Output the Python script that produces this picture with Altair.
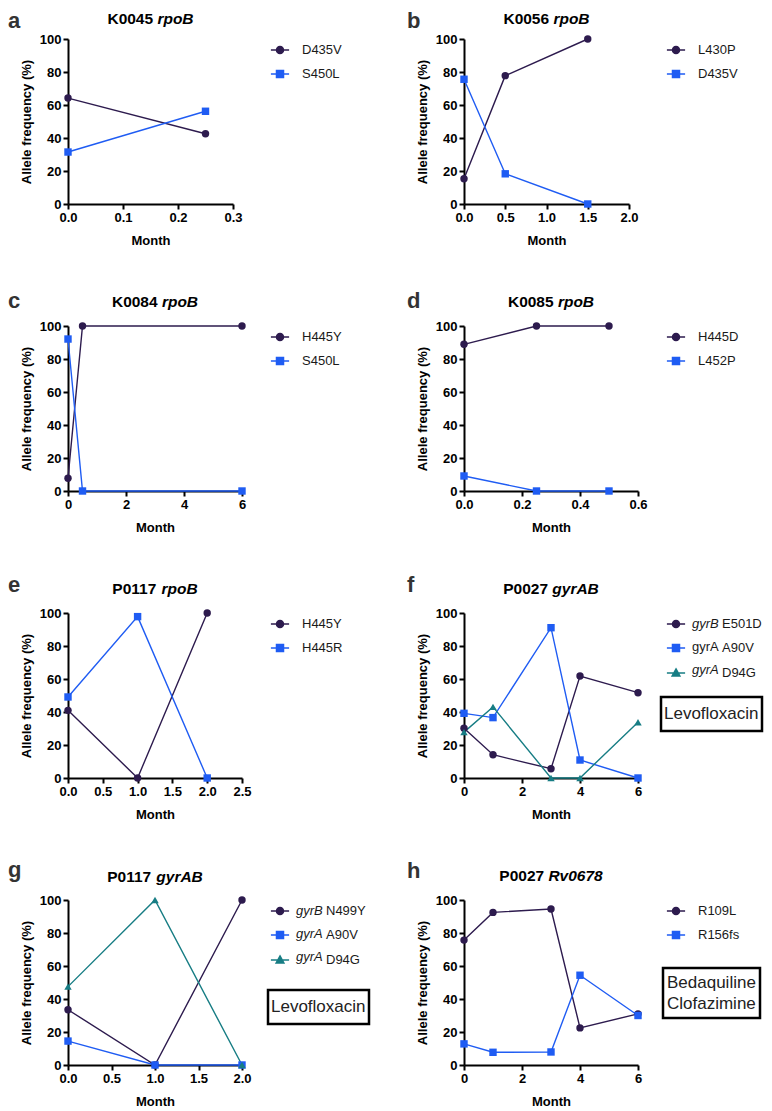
import altair as alt
import pandas as pd

# ---------------- data ----------------
letters = ["a", "b", "c", "d", "e", "f", "g", "h"]
samples = ["K0045", "K0056", "K0084", "K0085", "P0117", "P0027", "P0117", "P0027"]
genes = ["rpoB", "rpoB", "rpoB", "rpoB", "rpoB", "gyrAB", "gyrAB", "Rv0678"]
x_max = [0.3, 2.0, 6, 0.6, 2.5, 6, 2.0, 6]
x_step = [0.1, 0.5, 2, 0.2, 0.5, 2, 0.5, 2]

months = [
    [0, 0.25],
    [0, 0.5, 1.5],
    [0, 0.5, 6],
    [0, 0.25, 0.5],
    [0, 1, 2],
    [0, 1, 3, 4, 6],
    [0, 1, 2],
    [0, 1, 3, 4, 6],
]
series_names = [
    ["D435V", "S450L"],
    ["L430P", "D435V"],
    ["H445Y", "S450L"],
    ["H445D", "L452P"],
    ["H445Y", "H445R"],
    ["gyrB E501D", "gyrA A90V", "gyrA D94G"],
    ["gyrB N499Y", "gyrA A90V", "gyrA D94G"],
    ["R109L", "R156fs"],
]
# gene prefixes shown before the mutation in the legend (italic flag per entry)
prefix_italic = [None, None, None, None, None,
                 [True, False, True], [True, True, True], None]

a_vals = [[64.2, 42.6], [31.5, 56.2]]
b_vals = [[15.3, 77.8, 100], [75.6, 18.3, 0]]
c_vals = [[7.7, 100, 100], [92.1, 0, 0]]
d_vals = [[88.9, 100, 100], [9.1, 0, 0]]
e_vals = [[41.0, 0, 100], [49.1, 97.8, 0]]
f_vals = [[30.2, 14.1, 5.6, 61.8, 51.7],
          [39.2, 36.6, 91.1, 10.9, 0],
          [27.8, 43.1, 0, 0, 33.8]]
g_vals = [[33.5, 0, 100], [14.5, 0, 0], [47.5, 100, 0]]
h_vals = [[75.7, 92.5, 94.5, 22.5, 31.0], [12.8, 7.7, 7.9, 54.4, 30.0]]
values = [a_vals, b_vals, c_vals, d_vals, e_vals, f_vals, g_vals, h_vals]

drugs = [[], [], [], [], [], ["Levofloxacin"], ["Levofloxacin"], ["Bedaquiline", "Clofazimine"]]

# ---------------- style ----------------
colors = ["#2d1b4e", "#1f5cf3", "#177d84"]
shapes = ["circle", "square", "triangle-up"]
legend_paths = [
    "M-2.6,0H2.6M1,0A1,1,0,1,1,-1,0A1,1,0,1,1,1,0Z",
    "M-2.6,0H2.6M-1,-1H1V1H-1Z",
    "M-2.6,0H2.6M0,-1.15L1.1,0.85L-1.1,0.85Z",
]
FONT = "Liberation Sans"
PH = 165
TFS = 15.5   # panel title font size
LFS = 22     # panel letter font size
# top edges (baseline="top") of titles and letters relative to the plot top
title_top = [-27, -27, -31, -31, -31, -31, -30, -31]
letter_top = [-28, -28, -35, -35, -38, -38, -40, -39.5]
drug_box_x = [0, 0, 0, 0, 0, 197, 200, 199]
drug_box_y = [0, 0, 0, 0, 0, 84, 90, 68]
LEG_X, LEG_Y, LEG_ROW = 205.5, 4.5, 23
LEG_SYM, LEG_OFF = 7, 15.5

CW = {'K': .722, 'P': .667, ' ': .278, 'r': .389, 'p': .611, 'o': .611, 'B': .722,
      'g': .611, 'y': .556, 'A': .722, 'R': .722, 'v': .556}


def tw(s, fs):
    return sum(CW.get(c, .556) for c in s) * fs


def panel(i):
    names = series_names[i]
    rows = []
    for s, name in enumerate(names):
        for m, v in zip(months[i], values[i][s]):
            rows.append({"Month": m, "Freq": v, "Series": name})
    df = pd.DataFrame(rows)
    w = 165 if i < 2 else 174
    step = x_step[i]
    n_t = int(round(x_max[i] / step))
    ticks = [round(k * step, 3) for k in range(n_t + 1)]
    fmt = "d" if step >= 1 else ".1f"
    xenc = alt.X("Month:Q", scale=alt.Scale(domain=[0, x_max[i]], nice=False),
                 axis=alt.Axis(values=ticks, format=fmt, title="Month"))
    yenc = alt.Y("Freq:Q", scale=alt.Scale(domain=[0, 100], nice=False),
                 axis=alt.Axis(values=[0, 20, 40, 60, 80, 100], title="Allele frequency (%)"))
    base = alt.Chart(df)
    layers = []
    for s, name in enumerate(names):
        layers.append(base.transform_filter(alt.datum.Series == name)
                      .mark_line(color=colors[s], strokeWidth=1.4)
                      .encode(x=xenc, y=yenc))
    for s, name in enumerate(names):
        layers.append(base.transform_filter(alt.datum.Series == name)
                      .mark_point(shape=shapes[s], filled=True, color=colors[s], size=55, opacity=1)
                      .encode(x=xenc, y=yenc))
    n = len(names)
    has_prefix = prefix_italic[i] is not None
    pre_w = 24  # room for the gene prefix "gyrX " in the legend
    leg_kw = dict(title=None, orient="none", legendX=LEG_X, legendY=LEG_Y, padding=0,
                  symbolSize=LEG_SYM * LEG_SYM, symbolStrokeWidth=1.5, symbolOpacity=1,
                  labelFontSize=13, labelFont=FONT, labelColor="#1a1a1a",
                  labelOffset=LEG_OFF + (pre_w if has_prefix else 0), rowPadding=LEG_ROW - 13)
    if has_prefix:
        leg_kw["labelExpr"] = "split(datum.label, ' ')[1]"
    leg = alt.Legend(**leg_kw)
    layers.append(base.mark_point(filled=True, opacity=0).encode(
        x=xenc, y=yenc,
        color=alt.Color("Series:N", scale=alt.Scale(domain=names, range=colors[:n]), legend=leg),
        stroke=alt.Stroke("Series:N", scale=alt.Scale(domain=names, range=colors[:n]), legend=leg),
        shape=alt.Shape("Series:N", scale=alt.Scale(domain=names, range=legend_paths[:n]), legend=leg),
    ))
    if has_prefix:
        for k, name in enumerate(names):
            pdf = pd.DataFrame({"prefix": [name.split(" ")[0]]})
            layers.append(alt.Chart(pdf).mark_text(
                align="left", baseline="middle", font=FONT, fontSize=13, color="#1a1a1a",
                fontStyle="italic" if prefix_italic[i][k] else "normal",
            ).encode(text="prefix:N", x=alt.value(LEG_X + LEG_SYM + LEG_OFF),
                     y=alt.value(LEG_Y + 6.5 + k * LEG_ROW)))
    if drugs[i]:
        rowh = 28 if len(drugs[i]) == 1 else 21
        dleg = alt.Legend(title=None, orient="none", legendX=drug_box_x[i], legendY=drug_box_y[i],
                          strokeColor="black", padding=3 if len(drugs[i]) == 1 else 4,
                          symbolSize=rowh * rowh,
                          symbolStrokeWidth=0, symbolOpacity=0, labelOffset={"expr": str(-rowh)},
                          labelFontSize=17, labelFont=FONT, labelColor="#222222", rowPadding=0)
        ddf = pd.DataFrame({"Drug": drugs[i]})
        layers.append(alt.Chart(ddf).mark_point(opacity=0).encode(
            strokeDash=alt.StrokeDash("Drug:N", scale=alt.Scale(domain=drugs[i]), legend=dleg)))
    # titles and panel letters
    tdf = pd.DataFrame({"letter": [letters[i]], "sample": [samples[i]], "gene": [genes[i]]})
    tb = alt.Chart(tdf)
    w1 = tw(samples[i] + " ", TFS)
    w2 = tw(genes[i], TFS)
    start = w / 2 - (w1 + w2) / 2
    layers.append(tb.mark_text(align="left", baseline="top", font=FONT, fontSize=TFS,
                               fontWeight="bold", color="black")
                  .encode(text="sample:N", x=alt.value(start), y=alt.value(title_top[i])))
    layers.append(tb.mark_text(align="left", baseline="top", font=FONT, fontSize=TFS,
                               fontWeight="bold", fontStyle="italic", color="black")
                  .encode(text="gene:N", x=alt.value(start + w1), y=alt.value(title_top[i])))
    lx = -60 if i % 2 == 0 else -57
    layers.append(tb.mark_text(align="left", baseline="top", font=FONT, fontSize=LFS,
                               fontWeight="bold", color="#333333")
                  .encode(text="letter:N", x=alt.value(lx), y=alt.value(letter_top[i])))
    return alt.layer(*layers).properties(width=w, height=PH)


panels = [panel(i) for i in range(8)]

chart = alt.concat(*panels, columns=2, spacing={"row": 122, "column": 222}, bounds="flush").resolve_scale(
    color="independent", stroke="independent", shape="independent", strokeDash="independent",
    x="independent", y="independent"
).properties(
    padding={"left": 0, "top": 2, "right": 0, "bottom": 2}
).configure_view(stroke=None).configure_axis(
    grid=False, domainColor="black", domainWidth=2, tickColor="black", tickWidth=2, tickSize=5,
    labelFont=FONT, labelFontWeight="bold", labelFontSize=13, labelColor="black", labelPadding=2,
    labelFlush=False, labelOverlap=False,
    titleFont=FONT, titleFontWeight="bold", titleFontSize=13, titleColor="black"
).configure_axisY(titlePadding=6).configure_axisX(titlePadding=10).configure_legend(
    strokeWidth=2.5
)

chart.save("out.html", embed_options={"renderer": "svg", "actions": False})
